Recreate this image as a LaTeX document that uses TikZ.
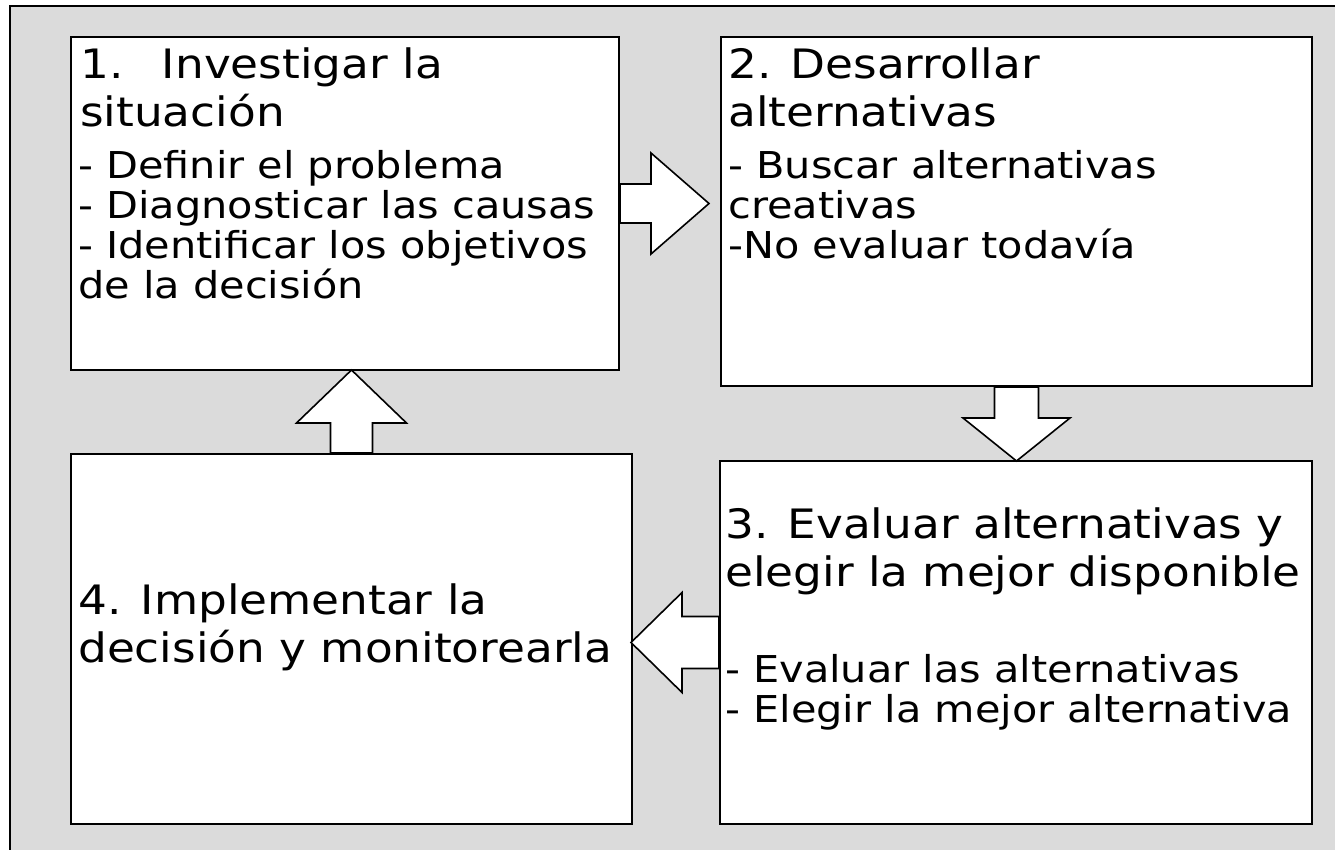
\documentclass[tikz,border=0pt]{standalone}
\usepackage{fontspec}
\newfontfamily\comic[FakeStretch=1.12]{DejaVu Sans}
\usetikzlibrary{calc}
\definecolor{bggray}{RGB}{219,219,219}
\begin{document}
\begin{tikzpicture}[x=1pt,y=-1pt,
  box/.style={draw=black,line width=2pt,fill=white,rectangle,inner sep=0pt,anchor=north west},
  blockarrow/.style={draw=black,line width=1.6pt,fill=white,line join=miter},
  headtxt/.style={anchor=north west,inner sep=0pt,align=left,font=\comic\fontsize{40.5}{48}\selectfont},
  bullettxt/.style={anchor=north west,inner sep=0pt,align=left,font=\comic\fontsize{37}{40}\selectfont}]
\path[use as bounding box] (0,0) rectangle (1335,850);
\clip (0,0) rectangle (1335,850);
\fill[bggray] (10,6) rectangle (1345,860);
\draw[line width=2pt] (1345,6) -- (10,6) -- (10,860);

% boxes
\node[box,minimum width=548pt,minimum height=333pt] (b1) at (70,36) {};
\node[box,minimum width=591pt,minimum height=349pt] (b2) at (720,36) {};
\node[box,minimum width=592pt,minimum height=363pt] (b3) at (719,460) {};
\node[box,minimum width=561pt,minimum height=370pt] (b4) at (70,453) {};

% texts
\node[headtxt] (t1h) at (80,48) {1.\hspace{0.95em}Investigar la\\situación};
\node[bullettxt] (t1b) at (78,150) {- Definir el problema\\- Diagnosticar las causas\\- Identificar los objetivos\\de la decisión};
\node[headtxt] (t2h) at (728,48) {2. Desarrollar\\alternativas};
\node[bullettxt] (t2b) at (728,150) {- Buscar alternativas\\creativas\\-No evaluar todavía};
\node[headtxt] (t3h) at (725,508) {3. Evaluar alternativas y\\elegir la mejor disponible};
\node[bullettxt] (t3b) at (725,654) {- Evaluar las alternativas\\- Elegir la mejor alternativa};
\node[headtxt] (t4h) at (78,584) {4. Implementar la\\decisión y monitorearla};

% block arrows
\draw[blockarrow] ($(b1.east)+(0,-19.5)$) -- ($(b1.east)+(31,-19.5)$) -- ($(b1.east)+(31,-50.5)$)
  -- ($(b1.east)+(89,0)$) -- ($(b1.east)+(31,50.5)$) -- ($(b1.east)+(31,19.5)$) -- ($(b1.east)+(0,19.5)$) -- cycle;
\draw[blockarrow] ($(b2.south)+(-22,0)$) -- ($(b2.south)+(-22,31)$) -- ($(b2.south)+(-53.5,31)$)
  -- ($(b2.south)+(0,74)$) -- ($(b2.south)+(53.5,31)$) -- ($(b2.south)+(22,31)$) -- ($(b2.south)+(22,0)$) -- cycle;
\draw[blockarrow] ($(b3.west)+(0,-26)$) -- ($(b3.west)+(-37,-26)$) -- ($(b3.west)+(-37,-50)$)
  -- ($(b3.west)+(-88,0)$) -- ($(b3.west)+(-37,50)$) -- ($(b3.west)+(-37,26)$) -- ($(b3.west)+(0,26)$) -- cycle;
\draw[blockarrow] ($(b4.north)+(-21,0)$) -- ($(b4.north)+(-21,-30)$) -- ($(b4.north)+(-55,-30)$)
  -- ($(b4.north)+(0,-83)$) -- ($(b4.north)+(55,-30)$) -- ($(b4.north)+(21,-30)$) -- ($(b4.north)+(21,0)$) -- cycle;
\end{tikzpicture}
\end{document}
